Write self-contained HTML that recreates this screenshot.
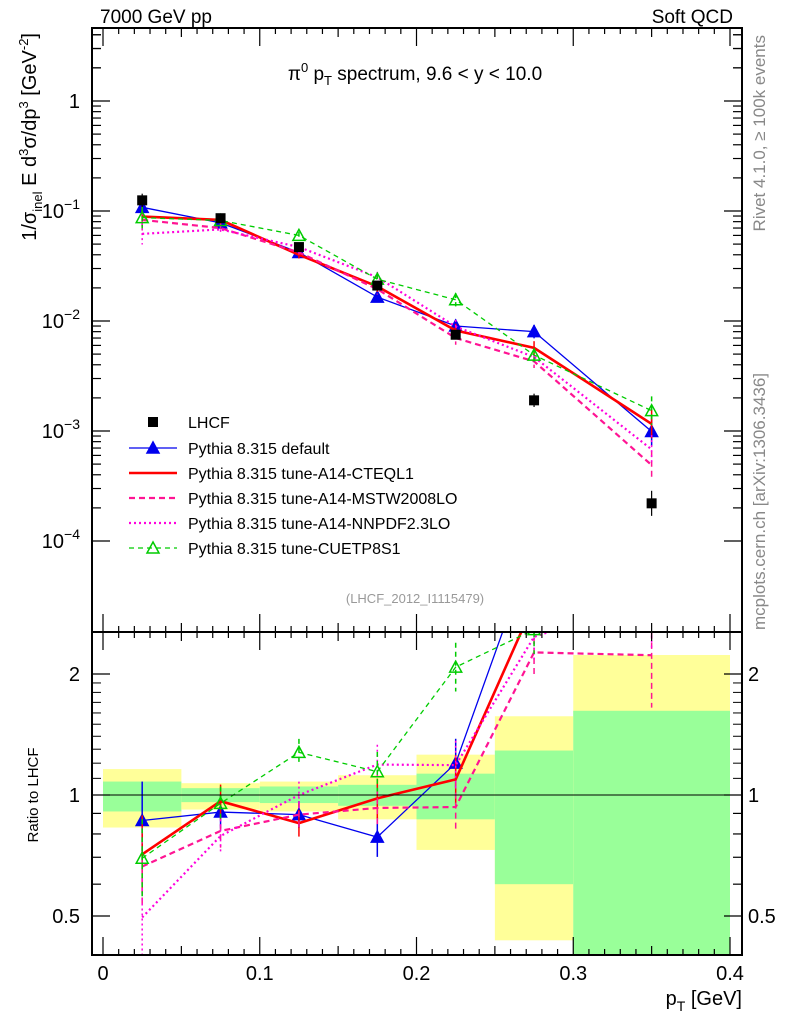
<!DOCTYPE html>
<html><head><meta charset="utf-8"><style>
body{margin:0;background:#fff}
text{font-family:"Liberation Sans",sans-serif}
</style></head><body>
<svg id="c" width="786" height="1024" xmlns="http://www.w3.org/2000/svg">
<g id="bands"></g>
<g id="marks"></g>
<g id="axes"></g>
<text x="100" y="23" font-size="19">7000 GeV pp</text>
<text x="733" y="23" font-size="19" text-anchor="end">Soft QCD</text>
<text x="415" y="80" font-size="19" text-anchor="middle">π<tspan dy="-8" font-size="13">0</tspan><tspan dy="8"> p</tspan><tspan dy="5" font-size="13">T</tspan><tspan dy="-5"> spectrum, 9.6 &lt; y &lt; 10.0</tspan></text>
<text x="415" y="603" font-size="13" fill="#999" text-anchor="middle">(LHCF_2012_I1115479)</text>
<text transform="translate(765,35) rotate(-90)" font-size="17" fill="#888" text-anchor="end">Rivet 4.1.0, ≥ 100k events</text>
<text transform="translate(765,630) rotate(-90)" font-size="17" fill="#888">mcplots.cern.ch [arXiv:1306.3436]</text>
<text transform="translate(36,33) rotate(-90)" font-size="20" text-anchor="end">1/σ<tspan dy="6" font-size="13">inel</tspan><tspan dy="-6"> E d</tspan><tspan dy="-8" font-size="13">3</tspan><tspan dy="8">σ/dp</tspan><tspan dy="-8" font-size="13">3</tspan><tspan dy="8"> [GeV</tspan><tspan dy="-8" font-size="13">-2</tspan><tspan dy="8">]</tspan></text>
<text transform="translate(38,795) rotate(-90)" font-size="15" text-anchor="middle">Ratio to LHCF</text>
<text x="742" y="1005" font-size="20" text-anchor="end">p<tspan dy="6" font-size="14">T</tspan><tspan dy="-6"> [GeV]</tspan></text>
<g id="legend"></g>
</svg>
<script>
const xBins=[[0,0.05],[0.05,0.1],[0.1,0.15],[0.15,0.2],[0.2,0.25],[0.25,0.3],[0.3,0.4]];
const xCenters=[0.025,0.075,0.125,0.175,0.225,0.275,0.35];
const lhcf=[0.125,0.086,0.047,0.021,0.0075,0.0019,0.00022];
const lhcfErr=[0.15,0.05,0.05,0.06,0.1,0.15,0.3];
const bandYellowLo=[0.83,0.92,0.91,0.87,0.73,0.435,0.3];
const bandYellowHi=[1.16,1.07,1.08,1.12,1.26,1.57,2.23];
const bandGreenLo=[0.91,0.96,0.955,0.94,0.87,0.60,0.3];
const bandGreenHi=[1.08,1.04,1.05,1.06,1.13,1.29,1.62];
const mcDefault=[0.108,0.078,0.042,0.0165,0.009,0.0080,0.00099];
const mcCTEQ=[0.089,0.083,0.040,0.0206,0.0082,0.0057,0.00116];
const mcMSTW=[0.083,0.070,0.042,0.0195,0.0070,0.0043,0.00049];
const mcNNPDF=[0.062,0.068,0.047,0.025,0.0089,0.0047,0.00068];
const mcCUETP=[0.087,0.082,0.060,0.024,0.0156,0.0049,0.00153];
const mcErr=[0.25,0.1,0.08,0.12,0.15,0.15,0.35];
const xTicks=[0,0.1,0.2,0.3,0.4];
const NS="http://www.w3.org/2000/svg";
const L=92,R=742,T=28,MB=632,RB=955;
const X=v=>103+v*(730-103)/0.4;
const Y=v=>101-Math.log10(v)*110;
const RY=v=>795-Math.log2(v)*121;
function el(p,t,a){const e=document.createElementNS(NS,t);for(const k in a)e.setAttribute(k,a[k]);p.appendChild(e);return e;}
const bands=document.getElementById('bands'),marks=document.getElementById('marks'),axes=document.getElementById('axes'),leg=document.getElementById('legend');
xBins.forEach((b,i)=>{
 let r=el(bands,'rect',{x:X(b[0]),y:RY(Math.min(bandYellowHi[i],2.52)),width:X(b[1])-X(b[0]),height:Math.min(RY(bandYellowLo[i]),RB)-RY(Math.min(bandYellowHi[i],2.52)),fill:'#ffff99'});
 
 let g=el(bands,'rect',{x:X(b[0]),y:RY(bandGreenHi[i]),width:X(b[1])-X(b[0]),height:Math.min(RY(bandGreenLo[i]),RB)-RY(bandGreenHi[i]),fill:'#99ff99'});
 
});
const defs=el(document.getElementById('c'),'defs',{});
const cp1=el(defs,'clipPath',{id:'cm'});el(cp1,'rect',{x:L,y:T,width:R-L,height:MB-T});
const cp2=el(defs,'clipPath',{id:'cr'});el(cp2,'rect',{x:L,y:MB,width:R-L,height:RB-MB});
const series=[
 {name:'Pythia 8.315 default',d:mcDefault,c:'#0000ee',w:1.3,dash:'',m:'tri'},
 {name:'Pythia 8.315 tune-A14-CTEQL1',d:mcCTEQ,c:'#ff0000',w:2.6,dash:'',m:''},
 {name:'Pythia 8.315 tune-A14-MSTW2008LO',d:mcMSTW,c:'#ff1493',w:2.2,dash:'6,4',m:''},
 {name:'Pythia 8.315 tune-A14-NNPDF2.3LO',d:mcNNPDF,c:'#ff00dd',w:2.2,dash:'2,3',m:''},
 {name:'Pythia 8.315 tune-CUETP8S1',d:mcCUETP,c:'#00cc00',w:1.3,dash:'5,4',m:'otri'}];
function tri(p,x,y,c,open){return el(p,'polygon',{points:`${x},${y-6} ${x-6},${y+5} ${x+6},${y+5}`,fill:open?'none':c,stroke:c,'stroke-width':1.5});}
function draw(clip,fy,ratio){
 const g=el(marks,'g',{'clip-path':`url(#${clip})`});
 
 series.forEach((s,si)=>{
  const vals=s.d.map((v,i)=>ratio?v/lhcf[i]:v);
  const pl=el(g,'polyline',{points:vals.map((v,i)=>X(xCenters[i])+','+fy(v)).join(' '),fill:'none',stroke:s.c,'stroke-width':s.w,'stroke-dasharray':s.dash});
  
  vals.forEach((v,i)=>{const x=X(xCenters[i]);
   el(g,'line',{x1:x,x2:x,y1:fy(v*(1+mcErr[i])),y2:fy(v/(1+mcErr[i])),stroke:s.c,'stroke-width':1.5,'stroke-dasharray':s.dash});
   if(s.m){const t=tri(g,x,fy(v),s.c,s.m=='otri');}
  });
 });
}
draw('cr',RY,true);
el(marks,'line',{x1:L,x2:R,y1:RY(1),y2:RY(1),stroke:'#000','stroke-width':1});
draw('cm',Y,false);
const lg=el(marks,'g',{'clip-path':'url(#cm)'});
lhcf.forEach((v,i)=>{const x=X(xCenters[i]);
 el(lg,'line',{x1:x,x2:x,y1:Y(v*(1+lhcfErr[i])),y2:Y(v/(1+lhcfErr[i])),stroke:'#000','stroke-width':1.2});
 const r=el(lg,'rect',{x:x-5,y:Y(v)-5,width:10,height:10,fill:'#000'});
 
});
el(axes,'rect',{x:L,y:T,width:R-L,height:MB-T,fill:'none',stroke:'#000','stroke-width':2});
el(axes,'rect',{x:L,y:MB,width:R-L,height:RB-MB,fill:'none',stroke:'#000','stroke-width':2});
[1,0.1,0.01,0.001,0.0001].forEach((d,k)=>{
 for(let m=1;m<10;m++){const v=d*m,y=Y(v);if(y<T||y>MB)continue;const len=m==1?18:9;
  el(axes,'line',{x1:L,x2:L+len,y1:y,y2:y,stroke:'#000','stroke-width':1.2});
  el(axes,'line',{x1:R,x2:R-len,y1:y,y2:y,stroke:'#000','stroke-width':1.2});}
 const t=el(axes,'text',{x:80,y:Y(d)+7,'font-size':20,'text-anchor':'end'});
 t.innerHTML=k==0?'1':`10<tspan dy="-9" font-size="14">${k==1?'−1':'−'+k}</tspan>`;
 
});
for(let m=2;m<5;m++){const y=Y(m);el(axes,'line',{x1:L,x2:L+9,y1:y,y2:y,stroke:'#000','stroke-width':1.2});el(axes,'line',{x1:R,x2:R-9,y1:y,y2:y,stroke:'#000','stroke-width':1.2});}
[0.4,0.5,0.6,0.7,0.8,0.9,1,2].forEach(v=>{const y=RY(v);const len=(v==0.5||v==1||v==2)?18:9;
 el(axes,'line',{x1:L,x2:L+len,y1:y,y2:y,stroke:'#000','stroke-width':1.2});el(axes,'line',{x1:R,x2:R-len,y1:y,y2:y,stroke:'#000','stroke-width':1.2});});
for(let v=1.1;v<2;v+=0.1){const y=RY(v);el(axes,'line',{x1:L,x2:L+9,y1:y,y2:y,stroke:'#000','stroke-width':1});el(axes,'line',{x1:R,x2:R-9,y1:y,y2:y,stroke:'#000','stroke-width':1});}
[['2',2],['1',1],['0.5',0.5]].forEach(a=>{
 let t=el(axes,'text',{x:80,y:RY(a[1])+7,'font-size':20,'text-anchor':'end'});t.textContent=a[0];
 t=el(axes,'text',{x:748,y:RY(a[1])+7,'font-size':20});t.textContent=a[0];});
for(let i=0;i<=40;i++){const v=i*0.01,x=X(v);if(x>R)continue;const len=i%10==0?18:(i%5==0?9:6);
 [[MB,-1],[MB,1],[RB,-1],[T,1]].forEach(p=>el(axes,'line',{x1:x,x2:x,y1:p[0],y2:p[0]+p[1]*len,stroke:'#000','stroke-width':1.2}));}
xTicks.forEach(v=>{const t=el(axes,'text',{x:X(v),y:980,'font-size':20,'text-anchor':'middle'});t.textContent=v==0?'0':String(v);});
const ly=[422,448,473,498,523,548];
let sq=el(leg,'rect',{x:148,y:ly[0]-5,width:10,height:10,fill:'#000'});
let tt=el(leg,'text',{x:188,y:ly[0]+6,'font-size':16});tt.textContent='LHCF';
series.forEach((s,i)=>{const y=ly[i+1];
 el(leg,'line',{x1:129,x2:177,y1:y,y2:y,stroke:s.c,'stroke-width':s.w,'stroke-dasharray':s.dash});
 if(s.m)tri(leg,153,y,s.c,s.m=='otri');
 const t=el(leg,'text',{x:188,y:y+6,'font-size':16});t.textContent=s.name;
 });
</script>
</body></html>
